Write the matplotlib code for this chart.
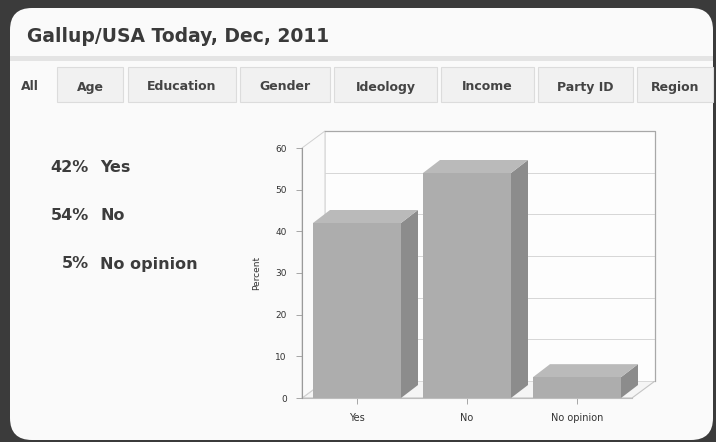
import matplotlib.pyplot as plt
import matplotlib.transforms as mtransforms
from matplotlib.patches import FancyBboxPatch, Rectangle, Polygon

# poll results
categories = ["Yes", "No", "No opinion"]
percents = [42, 54, 5]
title = "Gallup/USA Today, Dec, 2011"
tabs = ["All", "Age", "Education", "Gender", "Ideology", "Income", "Party ID", "Region"]
yticks = [0, 10, 20, 30, 40, 50, 60]

W, H = 716, 442
fig = plt.figure(figsize=(W / 100, H / 100), dpi=100)
fig.patch.set_facecolor("#3b3b3b")

# page layer in pixel coordinates
page = fig.add_axes([0, 0, 1, 1])
page.set_xlim(0, W)
page.set_ylim(H, 0)
page.axis("off")

panel = FancyBboxPatch((10, 8), 703, 432, boxstyle="round,pad=0,rounding_size=22",
                       fc="#fafafa", ec="none")
page.add_patch(panel)

page.text(27, 36, title, fontsize=13.5, fontweight="bold", color="#3a3a3a",
          va="center", ha="left")
page.add_patch(Rectangle((10, 56), 703, 5, fc="#e4e4e4", ec="none"))

# tab strip
tab_edges = [(10, 56), (57, 123), (128, 236), (240, 330), (334, 437),
             (441, 534), (538, 633), (637, 713)]
for i, (label, (x0, x1)) in enumerate(zip(tabs, tab_edges)):
    if i > 0:
        page.add_patch(Rectangle((x0, 67), x1 - x0, 35, fc="#f1f1f1",
                                 ec="#dcdcdc", lw=0.8))
    page.text((x0 + x1) / 2 if i > 0 else 30, 87, label, fontsize=9,
              fontweight="bold", color="#444444", ha="center", va="center")

# summary list on the left
rows_y = [167, 216, 264]
for y, cat, p in zip(rows_y, categories, percents):
    page.text(89, y, f"{p}%", fontsize=11.5, fontweight="bold", color="#3c3c3c",
              ha="right", va="center")
    page.text(100, y, cat, fontsize=11.5, fontweight="bold", color="#3c3c3c",
              ha="left", va="center")

# 3D bar chart
ax = fig.add_axes([302 / W, 1 - 398 / H, 330 / W, 250 / H])
ax.set_xlim(-0.5, len(categories) - 0.5)
ax.set_ylim(0, 60)
ax.patch.set_alpha(0)
for s in ["top", "right"]:
    ax.spines[s].set_visible(False)
ax.spines["left"].set_color("#9a9a9a")
ax.spines["bottom"].set_color("#bdbdbd")
ax.spines["left"].set_linewidth(0.8)
ax.spines["bottom"].set_linewidth(0.8)
ax.spines["left"].set_zorder(5)
ax.set_xticks(range(len(categories)))
ax.set_xticklabels(categories, fontsize=7, color="#333333")
ax.set_yticks(yticks)
ax.set_yticklabels([str(t) for t in yticks], fontsize=6.5, color="#333333")
ax.tick_params(axis="y", length=4, width=0.6, color="#999999", pad=7)
ax.tick_params(axis="x", length=4, width=0.6, color="#999999", pad=7)
ax.set_ylabel("Percent", fontsize=6.5, color="#333333", labelpad=10)

fig.canvas.draw()
ident = mtransforms.IdentityTransform()
depth = mtransforms.ScaledTranslation(0.23, 0.17, fig.dpi_scale_trans)
back = ax.transData + depth
bar_depth = mtransforms.ScaledTranslation(0.17, 0.13, fig.dpi_scale_trans)
bar_back = ax.transData + bar_depth
x0, x1 = ax.get_xlim()
y0, y1 = ax.get_ylim()


def face(front_pts, back_pts, tr, **kw):
    pts = list(ax.transData.transform(front_pts)) + list(tr.transform(back_pts))
    ax.add_patch(Polygon(pts, closed=True, transform=ident, clip_on=False, **kw))


# floor, walls and grid
face([(x0, y0), (x1, y0)], [(x1, y0), (x0, y0)], back,
     fc="#f5f5f5", ec="#c4c4c4", lw=0.8, zorder=0.5)
face([(x0, y0), (x0, y1)], [(x0, y1), (x0, y0)], back,
     fc="#fafafa", ec="#d0d0d0", lw=0.7, zorder=0.5)
ax.add_patch(Rectangle((x0, y0), x1 - x0, y1 - y0, transform=back, fc="#fdfdfd",
                       ec="none", zorder=0.6, clip_on=False))
ax.plot([x0, x1, x1], [y1, y1, y0], transform=back, color="#a8a8a8", lw=0.9,
        zorder=0.8, clip_on=False)
ax.plot([x0, x0], [y0, y1], transform=back, color="#dedede", lw=0.7,
        zorder=0.7, clip_on=False)
for t in yticks[1:-1]:
    ax.plot([x0, x1], [t, t], transform=back, color="#d6d6d6", lw=0.7,
            zorder=0.7, clip_on=False)

# bars: side face, top face, front face
width = 0.8
for i, v in enumerate(percents):
    l, r = i - width / 2, i + width / 2
    face([(r, 0), (r, v)], [(r, v), (r, 0)], bar_back, fc="#8c8c8c", ec="none", zorder=2)
    face([(l, v), (r, v)], [(r, v), (l, v)], bar_back, fc="#bababa", ec="none", zorder=2)
    ax.bar(i, v, width=width, color="#adadad", edgecolor="none", zorder=3)

fig.savefig("out.png", dpi=100, facecolor=fig.get_facecolor())
